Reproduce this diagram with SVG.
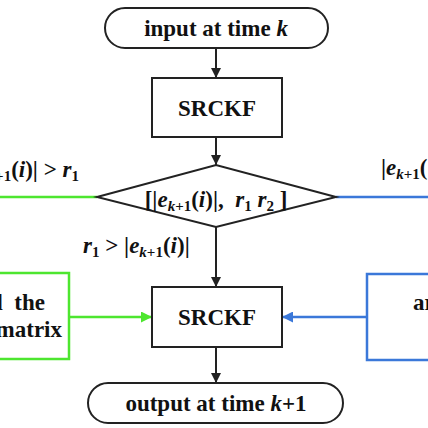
<svg xmlns="http://www.w3.org/2000/svg" width="428" height="428" viewBox="0 0 428 428">
<defs>
<style>
.t{font-family:"Liberation Serif","Times New Roman",serif;font-weight:bold;font-size:23px;fill:#111}
.i{font-style:italic}
.s{font-size:15px}
.pre{white-space:pre}
.box{fill:#fff;stroke:#222;stroke-width:2}
.k{stroke:#222;stroke-width:2;fill:none}
.g{stroke:#4de62f;stroke-width:2.5;fill:none}
.b{stroke:#3b78d9;stroke-width:2.5;fill:none}
</style>
<marker id="ak" viewBox="0 0 10 10" refX="10" refY="5" markerWidth="5" markerHeight="5" orient="auto" markerUnits="strokeWidth"><path d="M0,0L10,5L0,10z" fill="#222"/></marker>
<marker id="ag" viewBox="0 0 10 10" refX="10" refY="5" markerWidth="4.4" markerHeight="4.4" orient="auto" markerUnits="strokeWidth"><path d="M0,0L10,5L0,10z" fill="#4de62f"/></marker>
<marker id="ab" viewBox="0 0 10 10" refX="10" refY="5" markerWidth="4.4" markerHeight="4.4" orient="auto" markerUnits="strokeWidth"><path d="M0,0L10,5L0,10z" fill="#3b78d9"/></marker>
</defs>
<rect width="428" height="428" fill="#fff"/>
<g id="connectors">
<line class="k" x1="216" y1="48" x2="216" y2="78" marker-end="url(#ak)"/>
<line class="k" x1="216" y1="137" x2="216" y2="165" marker-end="url(#ak)"/>
<line class="k" x1="216" y1="227" x2="216" y2="287" marker-end="url(#ak)"/>
<line class="k" x1="216" y1="347" x2="216" y2="383" marker-end="url(#ak)"/>
<line class="g" x1="0" y1="197" x2="97" y2="197"/>
<line class="b" x1="336" y1="197" x2="428" y2="197"/>
<line class="g" x1="69" y1="317" x2="152" y2="317" marker-end="url(#ag)"/>
<line class="b" x1="367" y1="317" x2="282" y2="317" marker-end="url(#ab)"/>
</g>
<g id="input">
<rect class="box" x="105" y="8" width="223" height="40" rx="20"/>
<text class="t" x="216" y="36" text-anchor="middle">input at time <tspan class="i">k</tspan></text>
</g>
<g id="srckf1">
<rect class="box" x="152" y="78" width="130" height="59"/>
<text class="t" x="217" y="116" text-anchor="middle">SRCKF</text>
</g>
<g id="decision">
<polygon class="box" points="97,197 216,165 336,197 216,227"/>
<text class="t pre" x="216" y="207" text-anchor="middle">[|<tspan class="i">e</tspan><tspan class="s i" dy="4">k</tspan><tspan class="s">+1</tspan><tspan dy="-4">(</tspan><tspan class="i">i</tspan>)|,  <tspan class="i">r</tspan><tspan class="s" dy="4">1</tspan><tspan dy="-4"> </tspan><tspan class="i">r</tspan><tspan class="s" dy="4">2</tspan><tspan dy="-4"> ]</tspan></text>
</g>
<g id="label-left">
<text class="t" x="79" y="177" text-anchor="end">|<tspan class="i">e</tspan><tspan class="s i" dy="4">k</tspan><tspan class="s">+1</tspan><tspan dy="-4">(</tspan><tspan class="i">i</tspan>)| &gt; <tspan class="i">r</tspan><tspan class="s" dy="4">1</tspan></text>
</g>
<g id="label-right">
<text class="t" x="381" y="175">|<tspan class="i">e</tspan><tspan class="s i" dy="4">k</tspan><tspan class="s">+1</tspan><tspan dy="-4">(</tspan></text>
</g>
<g id="label-down">
<text class="t" x="83" y="253"><tspan class="i">r</tspan><tspan class="s" dy="4">1</tspan><tspan dy="-4"> &gt; |</tspan><tspan class="i">e</tspan><tspan class="s i" dy="4">k</tspan><tspan class="s">+1</tspan><tspan dy="-4">(</tspan><tspan class="i">i</tspan>)|</text>
</g>
<g id="green-box">
<rect x="-10" y="273" width="79" height="86" fill="#fff" stroke="#4de62f" stroke-width="2.5"/>
<text class="t pre" x="45" y="310" text-anchor="end">l  the</text>
<text class="t" x="62" y="337" text-anchor="end">matrix</text>
</g>
<g id="blue-box">
<rect x="367" y="274" width="75" height="86" fill="#fff" stroke="#3b78d9" stroke-width="2.5"/>
<text class="t" x="413" y="310">ar</text>
</g>
<g id="srckf2">
<rect class="box" x="152" y="287" width="130" height="60"/>
<text class="t" x="217" y="325" text-anchor="middle">SRCKF</text>
</g>
<g id="output">
<rect class="box" x="88" y="383" width="255" height="40" rx="20"/>
<text class="t" x="216" y="411" text-anchor="middle">output at time <tspan class="i">k</tspan>+1</text>
</g>
</svg>
